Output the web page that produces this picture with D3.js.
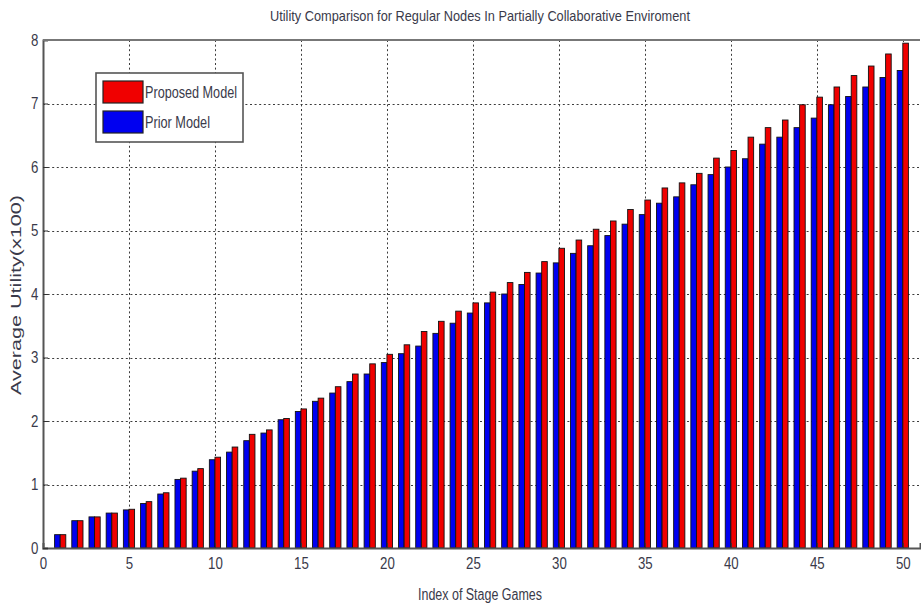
<!DOCTYPE html>
<html>
<head>
<meta charset="utf-8">
<script src="https://cdn.jsdelivr.net/npm/d3@7"></script>
<style>
  body { margin: 0; background: #fff; }
  svg { display: block; }
  text { font-family: "Liberation Sans Narrow", "Liberation Sans", Arial, sans-serif; fill: #3a3a4a; }
</style>
</head>
<body>
<div id="chart"></div>
<script>
// stage game index
var stages = d3.range(1, 51);

// Average utility (x100)
var priorModel = [
  0.21, 0.43, 0.49, 0.55, 0.60, 0.70, 0.85, 1.08, 1.21, 1.39,
  1.51, 1.69, 1.81, 2.02, 2.15, 2.31, 2.44, 2.62, 2.74, 2.92,
  3.06, 3.18, 3.38, 3.54, 3.70, 3.86, 4.00, 4.15, 4.33, 4.49,
  4.64, 4.76, 4.92, 5.10, 5.25, 5.43, 5.53, 5.72, 5.88, 6.00,
  6.13, 6.36, 6.47, 6.62, 6.77, 6.98, 7.11, 7.26, 7.41, 7.52
];
var proposedModel = [
  0.21, 0.43, 0.49, 0.55, 0.61, 0.73, 0.87, 1.10, 1.25, 1.43,
  1.59, 1.79, 1.86, 2.04, 2.19, 2.36, 2.54, 2.74, 2.90, 3.05,
  3.20, 3.41, 3.57, 3.73, 3.86, 4.03, 4.18, 4.34, 4.51, 4.72,
  4.85, 5.02, 5.15, 5.33, 5.48, 5.67, 5.75, 5.90, 6.14, 6.26,
  6.47, 6.62, 6.74, 6.98, 7.10, 7.26, 7.44, 7.59, 7.78, 7.95
];

var xTicks = [0, 5, 10, 15, 20, 25, 30, 35, 40, 45, 50];
var yTicks = [0, 1, 2, 3, 4, 5, 6, 7, 8];

var seriesNames = ["Prior Model", "Proposed Model"];
var seriesColors = { "Prior Model": "#0000f0", "Proposed Model": "#f00000" };
var legendOrder = ["Proposed Model", "Prior Model"];

var width = 921, height = 609;
var plot = { left: 43, right: 920, top: 40, bottom: 548 };

var svg = d3.select("#chart").append("svg")
    .attr("width", width)
    .attr("height", height);

var x = d3.scaleLinear().domain([0, 51]).range([plot.left, plot.right]);
var y = d3.scaleLinear().domain([0, 8]).range([plot.bottom, plot.top]);
var inner = d3.scaleBand().domain(seriesNames).range([-5.6, 5.6]);

// grid
var grid = svg.append("g").attr("class", "grid")
    .attr("stroke", "#3c3c3c")
    .attr("stroke-width", 1)
    .attr("stroke-dasharray", "2,2.6");

grid.selectAll("line.h")
    .data(yTicks.filter(function(d) { return d > 0 && d < 8; }))
  .enter().append("line")
    .attr("class", "h")
    .attr("x1", plot.left).attr("x2", plot.right)
    .attr("y1", function(d) { return Math.round(y(d)) + 0.5; })
    .attr("y2", function(d) { return Math.round(y(d)) + 0.5; });

grid.selectAll("line.v")
    .data(xTicks.filter(function(d) { return d > 0; }))
  .enter().append("line")
    .attr("class", "v")
    .attr("y1", plot.top).attr("y2", plot.bottom)
    .attr("x1", function(d) { return Math.round(x(d)) + 0.5; })
    .attr("x2", function(d) { return Math.round(x(d)) + 0.5; });

// bars
var rows = stages.map(function(s, i) {
  return { stage: s, values: [
    { name: "Prior Model", value: priorModel[i] },
    { name: "Proposed Model", value: proposedModel[i] }
  ]};
});

var groups = svg.append("g").attr("class", "bars")
  .selectAll("g")
    .data(rows)
  .enter().append("g")
    .attr("transform", function(d) { return "translate(" + x(d.stage) + ",0)"; });

groups.selectAll("rect")
    .data(function(d) { return d.values; })
  .enter().append("rect")
    .attr("x", function(d) { return inner(d.name); })
    .attr("width", inner.bandwidth())
    .attr("y", function(d) { return y(d.value); })
    .attr("height", function(d) { return y(0) - y(d.value); })
    .attr("fill", function(d) { return seriesColors[d.name]; })
    .attr("stroke", "#111")
    .attr("stroke-width", 0.9);

// axes
var xAxis = d3.axisBottom(x).tickValues(xTicks).tickSize(-5).tickPadding(9);
var yAxis = d3.axisLeft(y).tickValues(yTicks).tickSize(-5).tickPadding(6);

var gx = svg.append("g")
    .attr("transform", "translate(0," + plot.bottom + ")")
    .call(xAxis);
var gy = svg.append("g")
    .attr("transform", "translate(" + plot.left + ",0)")
    .call(yAxis);

[gx, gy].forEach(function(g) {
  g.select(".domain").attr("stroke", "#555").attr("stroke-width", 2);
  g.selectAll(".tick line").attr("stroke", "#333");
  g.selectAll(".tick text")
    .style("font-size", "17px")
    .attr("fill", "#3a3a4a");
});

// narrow the digits so they look like the condensed originals
gx.selectAll(".tick text")
    .attr("transform", function() {
      var t = d3.select(this);
      return "translate(0,0) scale(0.78,1)";
    });
gy.selectAll(".tick text")
    .attr("transform", "scale(0.78,1)");

// top border
svg.append("line")
    .attr("x1", plot.left).attr("x2", plot.right)
    .attr("y1", plot.top).attr("y2", plot.top)
    .attr("stroke", "#777").attr("stroke-width", 2);

// title and axis labels
svg.append("text")
    .attr("x", 480).attr("y", 21)
    .attr("text-anchor", "middle")
    .attr("textLength", 420).attr("lengthAdjust", "spacingAndGlyphs")
    .style("font-size", "15px")
    .text("Utility Comparison for Regular Nodes In Partially Collaborative Enviroment");

svg.append("text")
    .attr("x", 480).attr("y", 600)
    .attr("text-anchor", "middle")
    .attr("textLength", 124).attr("lengthAdjust", "spacingAndGlyphs")
    .style("font-size", "16px")
    .text("Index of Stage Games");

svg.append("text")
    .attr("transform", "translate(21,295) rotate(-90)")
    .attr("text-anchor", "middle")
    .attr("textLength", 200).attr("lengthAdjust", "spacingAndGlyphs")
    .style("font-family", "'Liberation Sans', Arial, sans-serif")
    .style("font-size", "14px")
    .text("Average Utility(x100)");

// legend
var legend = svg.append("g").attr("transform", "translate(96,73)");
legend.append("rect")
    .attr("width", 147).attr("height", 69)
    .attr("fill", "#fff")
    .attr("stroke", "#555").attr("stroke-width", 1.6);

var items = legend.selectAll("g.item")
    .data(legendOrder)
  .enter().append("g")
    .attr("class", "item")
    .attr("transform", function(d, i) { return "translate(7," + (8 + i * 30) + ")"; });

items.append("rect")
    .attr("width", 40).attr("height", 22)
    .attr("fill", function(d) { return seriesColors[d]; })
    .attr("stroke", "#222").attr("stroke-width", 1.2);

items.append("text")
    .attr("x", 42).attr("y", 17)
    .attr("textLength", function(d) { return d === "Proposed Model" ? 92 : 65; })
    .attr("lengthAdjust", "spacingAndGlyphs")
    .style("font-size", "16px")
    .text(function(d) { return d; });
</script>
</body>
</html>
